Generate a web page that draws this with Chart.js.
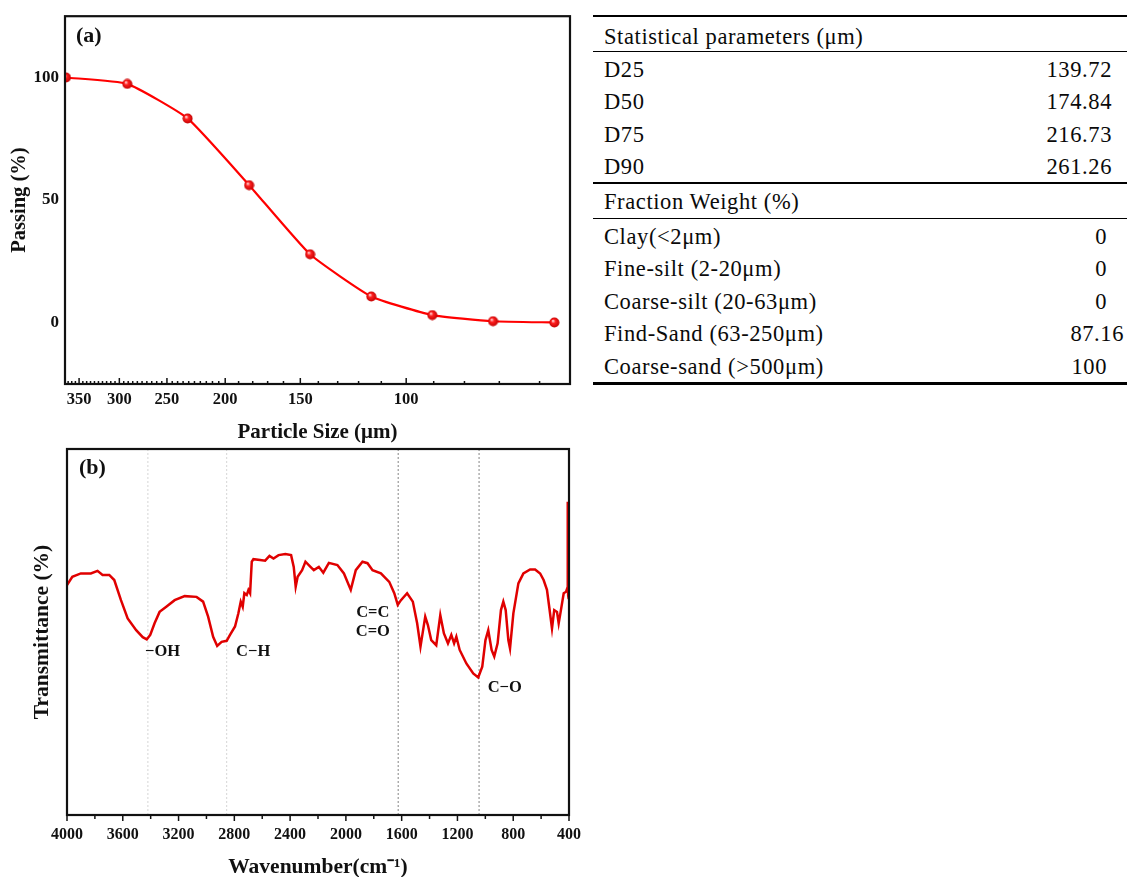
<!DOCTYPE html>
<html><head><meta charset="utf-8">
<script src="https://cdn.jsdelivr.net/npm/chart.js@4.4.0/dist/chart.umd.min.js"></script>
<style>
html,body{margin:0;padding:0;background:#fff;}
body{width:1127px;height:877px;overflow:hidden;position:relative;}
#ca{position:absolute;left:0;top:0;}
#cb{position:absolute;left:0;top:444px;}
#tbl{position:absolute;left:593px;top:0;width:534px;height:400px;font-family:"Liberation Serif",serif;font-size:22.5px;letter-spacing:0.6px;color:#0a0a0a;}
.rule{position:absolute;left:0;right:0;background:#000;}
.row{position:absolute;left:0;right:0;height:32px;line-height:32px;white-space:nowrap;}
.lab{position:absolute;left:11px;top:0;}
.val{position:absolute;top:0;text-align:right;}
</style></head><body>
<canvas id="ca" width="580" height="444"></canvas>
<canvas id="cb" width="591" height="433"></canvas>
<div id="tbl"></div>
<script>
// ---------- Panel (a): particle size distribution ----------
const particleSize = [368, 291, 231, 182.5, 144.5, 114.3, 90.5, 71.7, 56.7];
const passing      = [100, 97.4, 83.3, 56.1, 27.9, 10.7, 3.1, 0.6, 0.1];
const sizeTickLabels = [100, 150, 200, 250, 300, 350];
const sizeMinorTicks = [60, 70, 80, 90, 110, 120, 130, 140, 160, 170, 180, 190,
  205, 210, 215, 220, 225, 230, 235, 240, 245, 255, 260, 265, 270, 275, 280, 285, 290, 295,
  305, 310, 315, 320, 325, 330, 335, 340, 345, 355, 360, 365];
const passingTickLabels = [0, 50, 100];

// ---------- Panel (b): FTIR spectrum ----------
const wavenumber = [4000, 3962, 3901, 3829, 3781, 3745, 3697, 3661, 3613, 3565, 3504, 3457, 3428, 3403, 3372, 3336,
  3288, 3228, 3156, 3071, 3024, 2988, 2952, 2923, 2891, 2855, 2831, 2795, 2771, 2754, 2740, 2728, 2711, 2699, 2687,
  2675, 2663, 2615, 2579, 2548, 2519, 2483, 2434, 2393, 2374, 2360, 2346, 2314, 2290, 2254, 2230, 2194, 2162, 2122,
  2061, 2014, 1965, 1929, 1881, 1845, 1809, 1749, 1689, 1653, 1628, 1605, 1561, 1520, 1489, 1465, 1431, 1412, 1388,
  1352, 1323, 1297, 1268, 1244, 1224, 1208, 1184, 1136, 1087, 1051, 1022, 999, 979, 955, 936, 912, 888, 871, 854,
  835, 823, 799, 763, 727, 679, 643, 607, 582, 558, 542, 522, 506, 486, 474, 460, 438, 421, 412, 409, 406, 402];
const transmittance = [62.8, 65.1, 66.0, 66.0, 66.7, 65.6, 65.6, 64.2, 58.7, 53.7, 50.5, 48.6, 48.0, 49.2, 52.4, 55.5,
  56.9, 58.7, 59.8, 59.6, 58.3, 54.2, 48.7, 46.2, 47.3, 47.6, 49.2, 51.5, 55.1, 58.3, 56.9, 60.6, 60.1, 61.5, 60.6,
  69.2, 69.9, 69.7, 69.5, 70.8, 70.1, 71.0, 71.3, 71.0, 67.8, 62.4, 65.1, 66.9, 69.2, 67.8, 66.9, 67.8, 66.2, 68.9,
  68.3, 66.0, 61.5, 66.9, 69.2, 68.8, 66.9, 66.0, 63.7, 60.6, 57.4, 58.7, 60.6, 58.3, 52.4, 46.0, 54.2, 51.9, 47.8,
  46.4, 54.6, 49.6, 46.9, 49.2, 46.9, 48.7, 45.1, 41.4, 38.7, 37.6, 40.5, 47.8, 50.5, 45.1, 43.3, 46.9, 56.0, 58.3, 56.0,
  47.8, 45.5, 55.1, 63.3, 66.0, 67.1, 67.1, 66.0, 64.2, 61.5, 56.9, 51.0, 56.0, 55.5, 52.4, 55.5, 60.6, 61.0, 62.0, 85.6, 60.0, 59.0];
const wnTickLabels = [4000, 3600, 3200, 2800, 2400, 2000, 1600, 1200, 800, 400];
const wnMinorTicks = [3800, 3400, 3000, 2600, 2200, 1800, 1400, 1000, 600];
const bandLines = [3420, 2855, 1625, 1045];
const bandLabels = ['\u2212OH', 'C\u2212H', 'C=C', 'C=O', 'C\u2212O'];
const bandLabelWn = [3315, 2665, 1807, 1807, 861];
const bandLabelT = [44.5, 44.5, 55.2, 50.0, 34.7];

// ---------- Table ----------
const statHeader = 'Statistical parameters (\u03bcm)';
const statNames = ['D25', 'D50', 'D75', 'D90'];
const statValues = ['139.72', '174.84', '216.73', '261.26'];
const fracHeader = 'Fraction Weight (%)';
const fracNames = ['Clay(<2\u03bcm)', 'Fine-silt (2-20\u03bcm)', 'Coarse-silt (20-63\u03bcm)', 'Find-Sand (63-250\u03bcm)', 'Coarse-sand (>500\u03bcm)'];
const fracValues = ['0', '0', '0', '87.16', '100'];

// ---------- styles / layout ----------
const SERIF = '"Liberation Serif", "Times New Roman", serif';
const INK = '#111111';
const bandLineColors = ['#d6d6d6', '#d6d6d6', '#858585', '#858585'];

function ball() {
  const c = document.createElement('canvas');
  c.width = 11; c.height = 11;
  const g = c.getContext('2d');
  const gr = g.createRadialGradient(4, 3.8, 0.4, 5.5, 5.5, 5.2);
  gr.addColorStop(0, '#ffd0d0');
  gr.addColorStop(0.35, '#ff2020');
  gr.addColorStop(1, '#c00000');
  g.fillStyle = gr;
  g.beginPath(); g.arc(5.5, 5.5, 5, 0, Math.PI * 2); g.fill();
  return c;
}

const deco = {
  id: 'deco',
  afterDatasetsDraw(chart, args, o) {
    const {ctx, chartArea: a} = chart;
    const xs = chart.scales.x, ys = chart.scales.y;
    ctx.save();
    ctx.strokeStyle = INK;
    ctx.lineWidth = 1.5;
    const drawT = (vals, len) => vals.forEach(v => {
      const px = xs.getPixelForValue(v);
      ctx.beginPath();
      ctx.moveTo(px, a.bottom);
      ctx.lineTo(px, a.bottom + (o.inward ? -len : len));
      ctx.stroke();
    });
    drawT(o.major, o.majorLen);
    drawT(o.minor, o.minorLen);
    ctx.lineWidth = 2.2;
    ctx.strokeRect(a.left, a.top, a.right - a.left, a.bottom - a.top);
    ctx.fillStyle = INK;
    ctx.textBaseline = 'middle';
    ctx.textAlign = 'left';
    ctx.font = 'bold 22px ' + SERIF;
    ctx.fillText(o.panel, a.left + o.panelDx, a.top + o.panelDy);
    if (o.labels) {
      ctx.textAlign = 'center';
      ctx.font = 'bold 16.5px ' + SERIF;
      o.labels.forEach((t, i) => {
        ctx.fillText(t, xs.getPixelForValue(o.labelX[i]), ys.getPixelForValue(o.labelY[i]));
      });
    }
    ctx.restore();
  }
};

new Chart(document.getElementById('ca'), {
  type: 'scatter',
  data: {
    datasets: [{
      data: particleSize.map((s, i) => ({x: s, y: passing[i]})),
      showLine: true,
      borderColor: '#ff0000',
      borderWidth: 2.2,
      tension: 0.15,
      pointStyle: ball(),
      pointRadius: 5
    }]
  },
  options: {
    responsive: false,
    animation: false,
    devicePixelRatio: 1,
    layout: {padding: {top: 13, right: 10, left: 0, bottom: 0}},
    plugins: {legend: {display: false}, tooltip: {enabled: false},
      deco: {inward: true, major: sizeTickLabels, minor: sizeMinorTicks, majorLen: 6, minorLen: 3,
        panel: '(a)', panelDx: 11, panelDy: 20}},
    scales: {
      x: {
        type: 'logarithmic', reverse: true, min: 53.4, max: 369.4,
        afterBuildTicks: s => { s.ticks = sizeTickLabels.map(v => ({value: v})); },
        afterFit: s => { s.height = 60; },
        grid: {display: false, drawTicks: false}, border: {display: false},
        ticks: {color: INK, font: {family: SERIF, weight: 'bold', size: 16.5}, padding: 6, maxRotation: 0, autoSkip: false, callback: v => String(v)},
        title: {display: true, text: 'Particle Size (\u03bcm)', color: INK,
          font: {family: SERIF, weight: 'bold', size: 21, lineHeight: 1}, padding: 0.5}
      },
      y: {
        min: -25, max: 125,
        afterBuildTicks: s => { s.ticks = passingTickLabels.map(v => ({value: v})); },
        afterFit: s => { s.width = 65; },
        grid: {display: false, drawTicks: false}, border: {display: false},
        ticks: {color: INK, font: {family: SERIF, weight: 'bold', size: 17}, padding: 6},
        title: {display: true, text: 'Passing (%)', color: INK,
          font: {family: SERIF, weight: 'bold', size: 20.5, lineHeight: 1}, padding: {top: 9.75, bottom: 0}}
      }
    }
  },
  plugins: [deco]
});

new Chart(document.getElementById('cb'), {
  type: 'scatter',
  data: {
    datasets: [{
      data: wavenumber.map((w, i) => ({x: w, y: transmittance[i]})),
      showLine: true,
      borderColor: '#e00000',
      borderWidth: 2.5,
      tension: 0,
      pointRadius: 0,
      order: 0
    }].concat(bandLines.map((w, i) => ({
      data: [{x: w, y: 0}, {x: w, y: 100}],
      showLine: true,
      borderColor: bandLineColors[i],
      borderWidth: 1,
      borderDash: [2, 2],
      pointRadius: 0,
      order: 1
    })))
  },
  options: {
    responsive: false,
    animation: false,
    devicePixelRatio: 1,
    layout: {padding: {top: 5, right: 0, left: 0, bottom: 0}},
    plugins: {legend: {display: false}, tooltip: {enabled: false},
      deco: {inward: false, major: wnTickLabels, minor: wnMinorTicks, majorLen: 6, minorLen: 4,
        panel: '(b)', panelDx: 12, panelDy: 19,
        labels: bandLabels, labelX: bandLabelWn, labelY: bandLabelT}},
    scales: {
      x: {
        type: 'linear', reverse: true, min: 400, max: 4000,
        afterBuildTicks: s => { s.ticks = wnTickLabels.map(v => ({value: v})); },
        afterFit: s => { s.height = 62; },
        grid: {display: false, drawTicks: false}, border: {display: false},
        ticks: {color: INK, font: {family: SERIF, weight: 'bold', size: 16}, padding: 10, maxRotation: 0, autoSkip: false, callback: v => String(v)},
        title: {display: true, text: 'Wavenumber(cm\u207b\u00b9)', color: INK,
          font: {family: SERIF, weight: 'bold', size: 21.5, lineHeight: 0.85}, padding: 0}
      },
      y: {
        min: 0, max: 100,
        afterFit: s => { s.width = 67; },
        grid: {display: false, drawTicks: false}, border: {display: false},
        ticks: {display: false},
        title: {display: true, text: 'Transmittance (%)', color: INK,
          font: {family: SERIF, weight: 'bold', size: 21.5, lineHeight: 1}, padding: {top: 32, bottom: 0}}
      }
    }
  },
  plugins: [deco]
});

// ---------- table build ----------
const tbl = document.getElementById('tbl');
function rule(y, h) {
  const d = document.createElement('div');
  d.className = 'rule'; d.style.top = y + 'px'; d.style.height = h + 'px';
  tbl.appendChild(d);
}
function row(center, label, value, right) {
  const r = document.createElement('div');
  r.className = 'row'; r.style.top = (center - 16) + 'px';
  const l = document.createElement('span'); l.className = 'lab'; l.textContent = label; r.appendChild(l);
  if (value !== undefined) {
    const v = document.createElement('span'); v.className = 'val'; v.textContent = value;
    v.style.right = right + 'px'; r.appendChild(v);
  }
  tbl.appendChild(r);
}
const statCenters = [70, 102, 135, 167];
const fracCenters = [237, 269, 302, 334, 367];
const fracRight = [20, 20, 20, 3, 20];
rule(15, 2);
row(37, statHeader);
rule(51, 1.3);
statNames.forEach((n, i) => row(statCenters[i], n, statValues[i], 15));
rule(182, 2);
row(202, fracHeader);
rule(218, 1.3);
fracNames.forEach((n, i) => row(fracCenters[i], n, fracValues[i], fracRight[i]));
rule(382, 2.5);
</script>
</body></html>
